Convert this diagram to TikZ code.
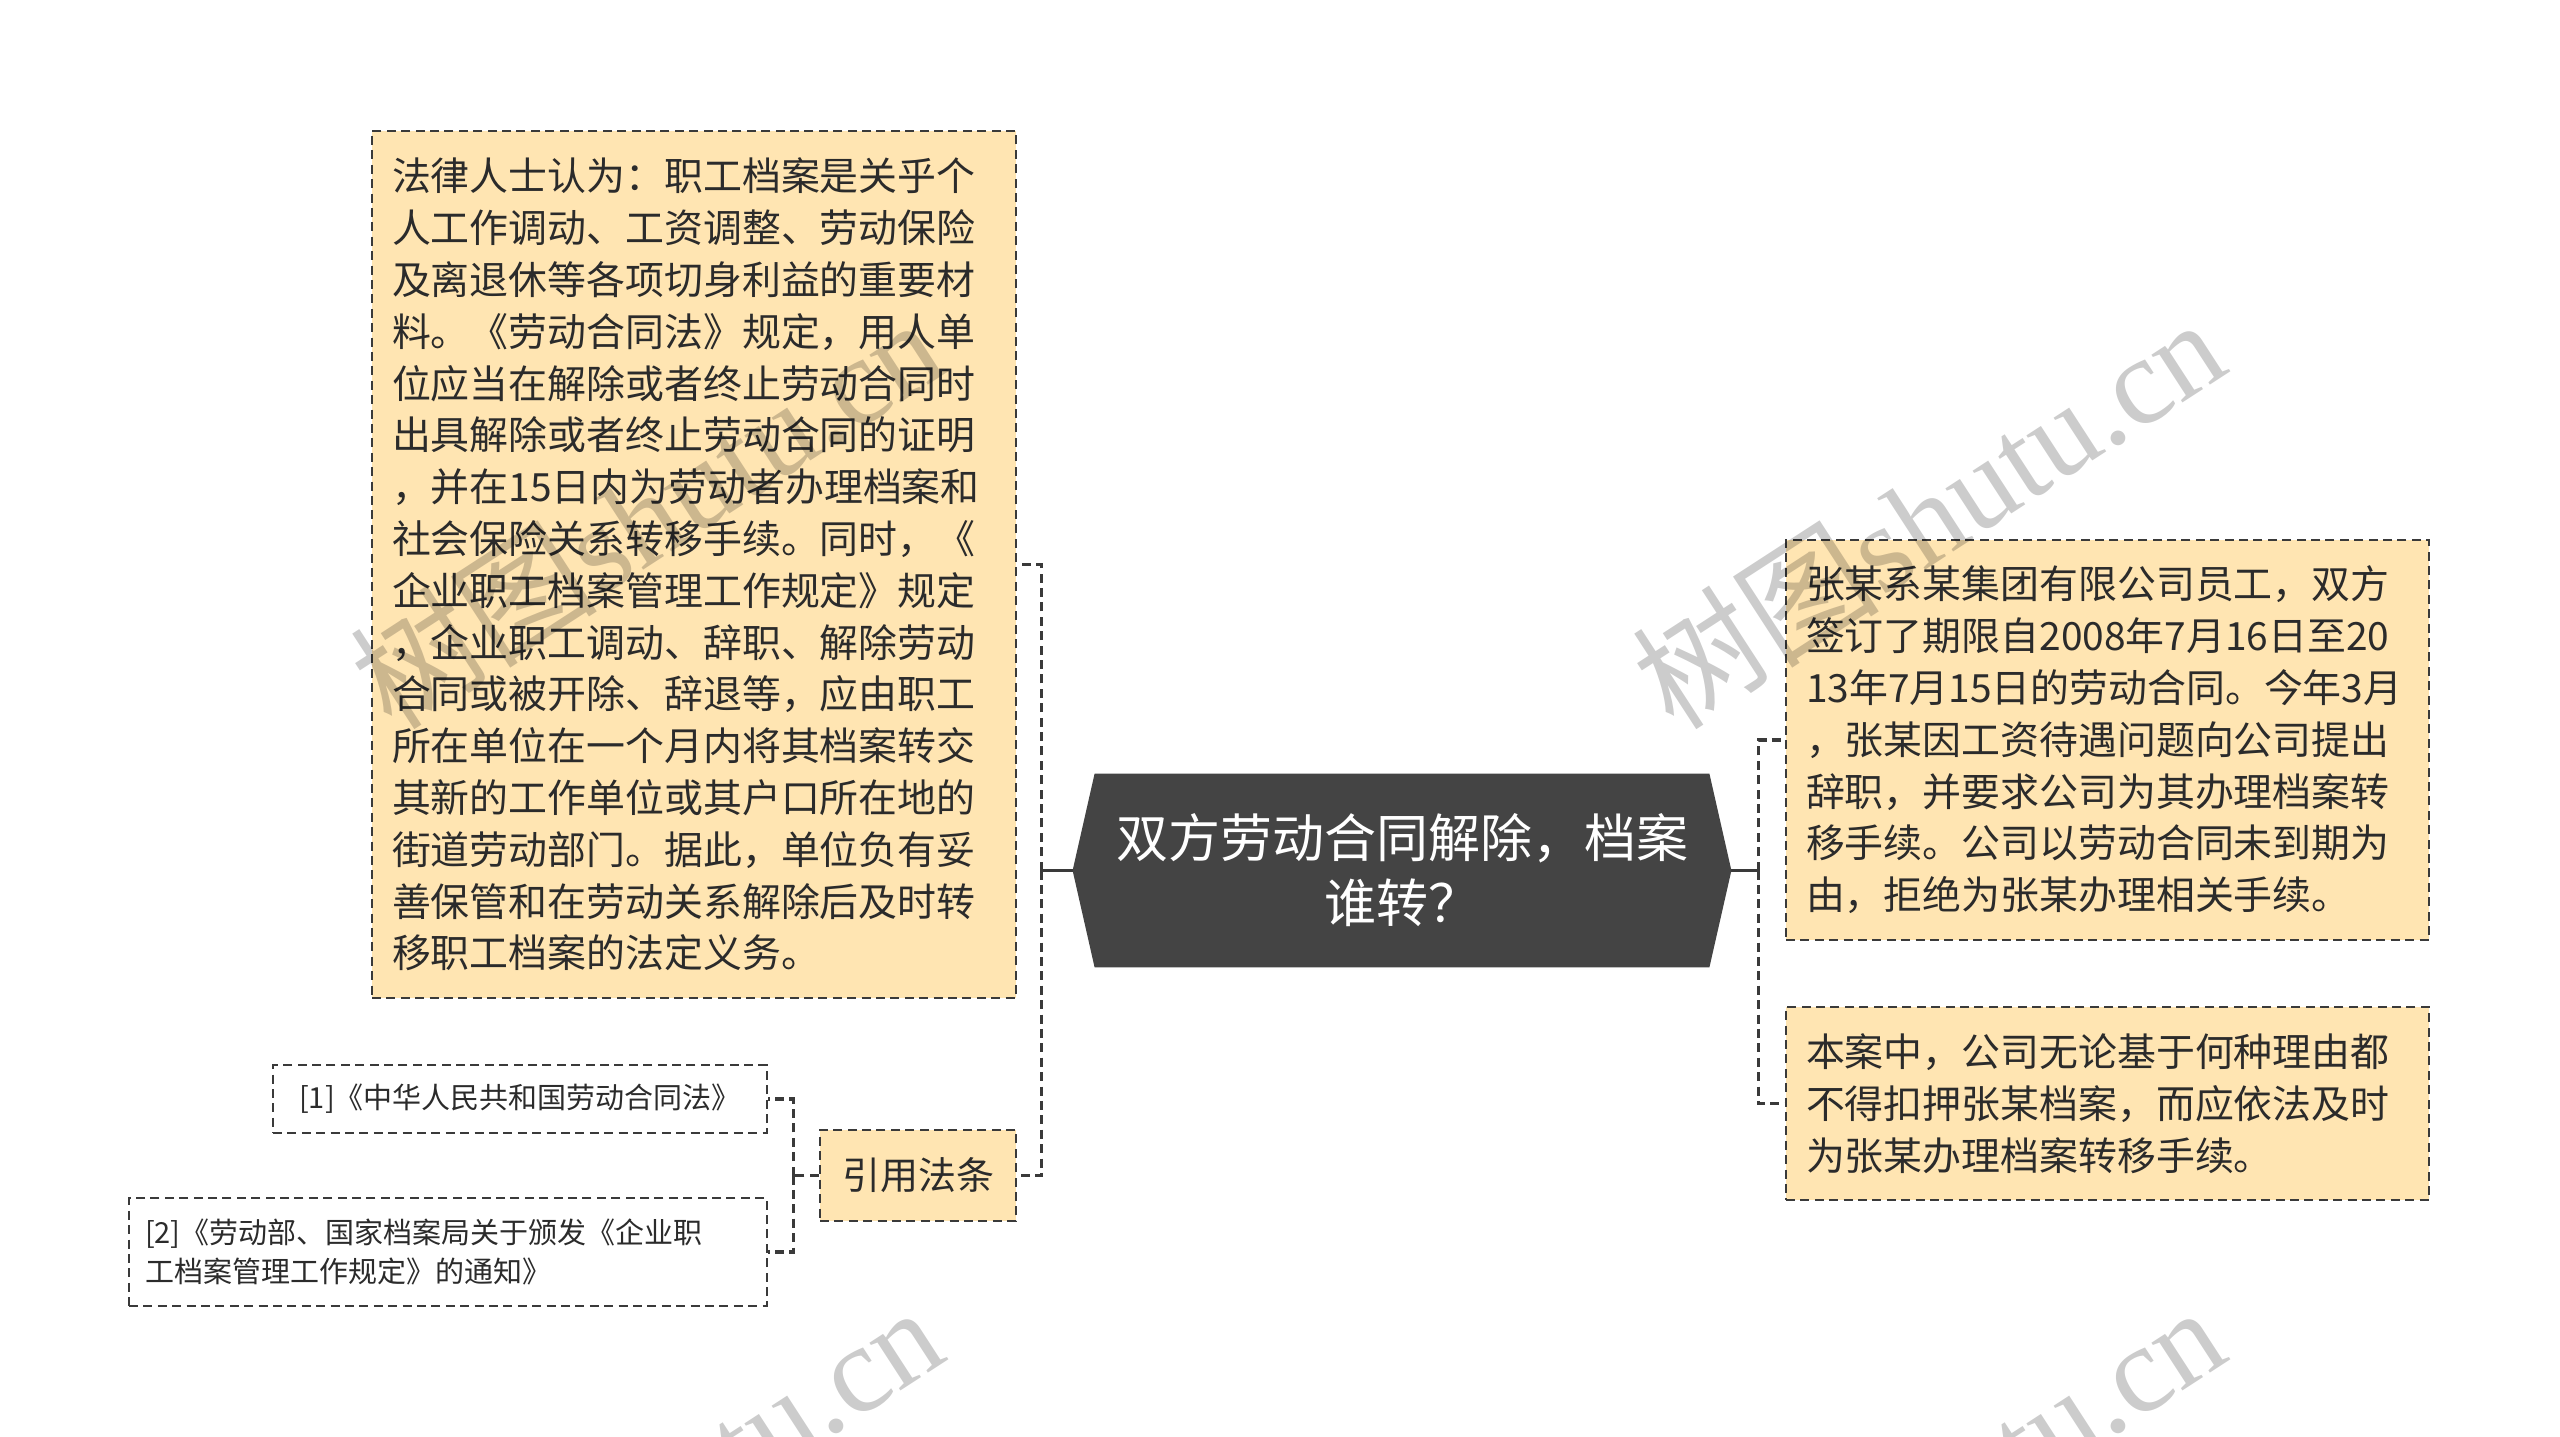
\documentclass[tikz,border=0pt]{standalone}
\usepackage{fontspec}
\setmainfont{Noto Sans CJK SC}
\newfontfamily\wmlatin{Liberation Serif}
\usetikzlibrary{backgrounds}
\definecolor{peach}{HTML}{FFE5B2}
\definecolor{linec}{HTML}{3A3A3A}
\definecolor{txtc}{HTML}{2B2B2B}
\definecolor{darkc}{HTML}{444444}
\tikzset{
  boxline/.style={draw=linec, line width=1.15pt, dash pattern=on 4.5pt off 2.7pt},
  leaf/.style={boxline, fill=peach, text=txtc, inner xsep=10pt, inner ysep=0pt, align=left,
    font=\fontsize{19.45pt}{25.9pt}\selectfont},
  refbox/.style={boxline, text=txtc, inner xsep=8pt, inner ysep=0pt,
    font=\fontsize{14.5pt}{19.5pt}\selectfont},
  trunk/.style={draw=linec, line width=1.6pt, dash pattern=on 4.5pt off 2.7pt},
  stem/.style={draw=linec, line width=1.8pt},
  wmark/.style={text=black, text opacity=0.2, rotate=33, inner sep=0pt,
    font=\fontsize{62pt}{62pt}\selectfont}
}
\begin{document}
\begin{tikzpicture}[x=0.5pt,y=-0.5pt]
\useasboundingbox (0,0) rectangle (2560,1436);

% central topic
\node[text=white, align=center, minimum width=329pt, minimum height=96.5pt, inner sep=0pt,
  font=\fontsize{26pt}{32.5pt}\selectfont] (topic) at (1402,870.5)
  {双方劳动合同解除，档案\\谁转？};
\begin{pgfonlayer}{background}
\fill[white] (0,0) rectangle (2560,1436);
\fill[darkc] (topic.west) -- ([xshift=11pt]topic.north west) -- ([xshift=-11pt]topic.north east)
  -- (topic.east) -- ([xshift=-11pt]topic.south east) -- ([xshift=11pt]topic.south west) -- cycle;
\end{pgfonlayer}

% left branch
\node[leaf, text width=302pt, minimum height=433.5pt] (law) at (694,564.5)
{法律人士认为：职工档案是关乎个\\
人工作调动、工资调整、劳动保险\\
及离退休等各项切身利益的重要材\\
料。《劳动合同法》规定，用人单\\
位应当在解除或者终止劳动合同时\\
出具解除或者终止劳动合同的证明\\
，并在15日内为劳动者办理档案和\\
社会保险关系转移手续。同时，《\\
企业职工档案管理工作规定》规定\\
，企业职工调动、辞职、解除劳动\\
合同或被开除、辞退等，应由职工\\
所在单位在一个月内将其档案转交\\
其新的工作单位或其户口所在地的\\
街道劳动部门。据此，单位负有妥\\
善保管和在劳动关系解除后及时转\\
移职工档案的法定义务。};

\node[leaf, align=center, inner xsep=0pt, minimum width=98pt, minimum height=45.5pt,
  font=\fontsize{19pt}{23pt}\selectfont] (cite) at (918,1175.5) {引用法条};

\node[refbox, minimum width=247pt, minimum height=34pt] (ref1) at (520,1099)
  {[1]《中华人民共和国劳动合同法》};
\node[refbox, text width=303pt, align=left, minimum height=54pt] (ref2) at (448,1252)
  {[2]《劳动部、国家档案局关于颁发《企业职\\工档案管理工作规定》的通知》};

% right branch
\node[leaf, text width=301.5pt, minimum height=200pt] (case) at (2107.5,740)
{张某系某集团有限公司员工，双方\\
签订了期限自2008年7月16日至20\\
13年7月15日的劳动合同。今年3月\\
，张某因工资待遇问题向公司提出\\
辞职，并要求公司为其办理档案转\\
移手续。公司以劳动合同未到期为\\
由，拒绝为张某办理相关手续。};

\node[leaf, text width=301.5pt, minimum height=96.5pt] (view) at (2107.5,1103.5)
{本案中，公司无论基于何种理由都\\
不得扣押张某档案，而应依法及时\\
为张某办理档案转移手续。};

% connectors
\coordinate (lj) at ([xshift=-15.5pt]topic.west);
\draw[stem] (topic.west) -- (lj);
\draw[trunk] (lj) |- (law.east);
\draw[trunk] (lj) |- (cite.east);
\coordinate (rj) at ([xshift=13.5pt]topic.east);
\draw[stem] (topic.east) -- (rj);
\draw[trunk] (rj) |- (case.west);
\draw[trunk] (rj) |- (view.west);
\coordinate (cj) at ([xshift=-12.5pt]cite.west);
\draw[trunk] (cite.west) -- (cj);
\draw[trunk] (cj) |- (ref1.east);
\draw[trunk] (cj) |- (ref2.east);

% watermarks
\begin{scope}
\clip (0,0) rectangle (2560,1436);
\node[wmark] (wm1) at (646,512) {树图{\wmlatin shutu.cn}};
\node[wmark] (wm2) at (1928,512) {树图{\wmlatin shutu.cn}};
\node[wmark] (wm3) at (646,1500) {树图{\wmlatin shutu.cn}};
\node[wmark] (wm4) at (1928,1500) {树图{\wmlatin shutu.cn}};
\end{scope}
\end{tikzpicture}
\end{document}
